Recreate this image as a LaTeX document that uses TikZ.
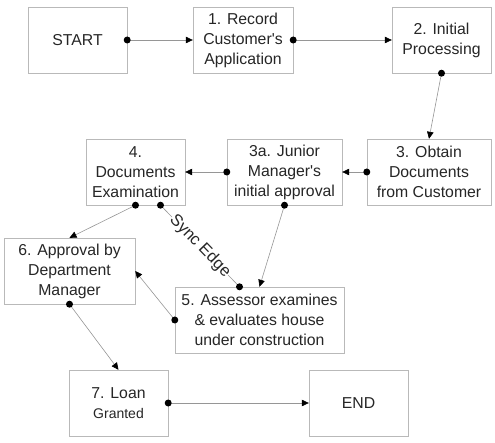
\documentclass[tikz,border=0pt]{standalone}
\usepackage{fontspec}
\setmainfont{Liberation Sans}
\usetikzlibrary{arrows.meta}
\definecolor{boxgray}{RGB}{185,185,185}
\definecolor{linegray}{RGB}{150,150,150}

\begin{document}
\begin{tikzpicture}[x=1pt,y=-1pt,
    procbox/.style={draw=boxgray,fill=white,align=center,minimum height=66pt,
      inner sep=1pt,text=black!85,font=\fontsize{15.8}{20}\selectfont},
    link/.style={draw=linegray,line width=0.6pt,
      -{Triangle[length=7pt,width=6.5pt,color=black]}},
    sync/.style={draw=linegray,line width=0.6pt}]
    \useasboundingbox (0,0) rectangle (495,443);

    % Top row
    \node[procbox,minimum width=99pt]  (start)  at (77.5,40)  {START};
    \node[procbox,minimum width=100pt] (rec)    at (243,40)   {1. Record\\Customer\textquotesingle s\\Application};
    \node[procbox,minimum width=99pt]  (init)   at (441.5,40) {2. Initial\\Processing};

    % Middle row
    \node[procbox,minimum width=99pt]  (docex)  at (135.5,172) {4.\\Documents\\Examination};
    \node[procbox,minimum width=115pt] (junior) at (284.5,172) {3a. Junior\\Manager\textquotesingle s\\initial approval};
    \node[procbox,minimum width=124pt] (obtain) at (429,172)   {3. Obtain\\Documents\\from Customer};

    % Approval and assessment
    \node[procbox,minimum width=131pt] (approv) at (69.5,271)  {6. Approval by\\Department\\Manager};
    \node[procbox,minimum width=169pt] (assess) at (259.5,320) {5. Assessor examines\\\& evaluates house\\under construction};

    % Bottom row
    \node[procbox,minimum width=99pt]  (loan)   at (118.5,403) {7. Loan\\{\fontsize{14}{17}\selectfont Granted}};
    \node[procbox,minimum width=99pt]  (end)    at (358.5,403) {END};

    % Connectors: dot at the tail, arrow at the head
    \foreach \a/\b in {start.east/rec.west, rec.east/init.west, init.south/obtain.north,
        obtain.west/junior.east, junior.west/docex.east, docex.south/approv.north,
        junior.south/assess.north, assess.west/approv.east, approv.south/loan.north,
        loan.east/end.west} {
      \draw[link] (\a) -- (\b);
      \fill (\a) circle (3.5pt);
    }

    % Sync edge
    \draw[sync] ([xshift=25pt]docex.south) -- node[sloped,fill=white,inner sep=0.5pt,
      font=\fontsize{16.5}{18}\selectfont,text=black!85] {Sync Edge} ([xshift=-20pt]assess.north);
    \fill ([xshift=25pt]docex.south) circle (3.5pt);
    \fill ([xshift=-20pt]assess.north) circle (3.5pt);
\end{tikzpicture}
\end{document}
